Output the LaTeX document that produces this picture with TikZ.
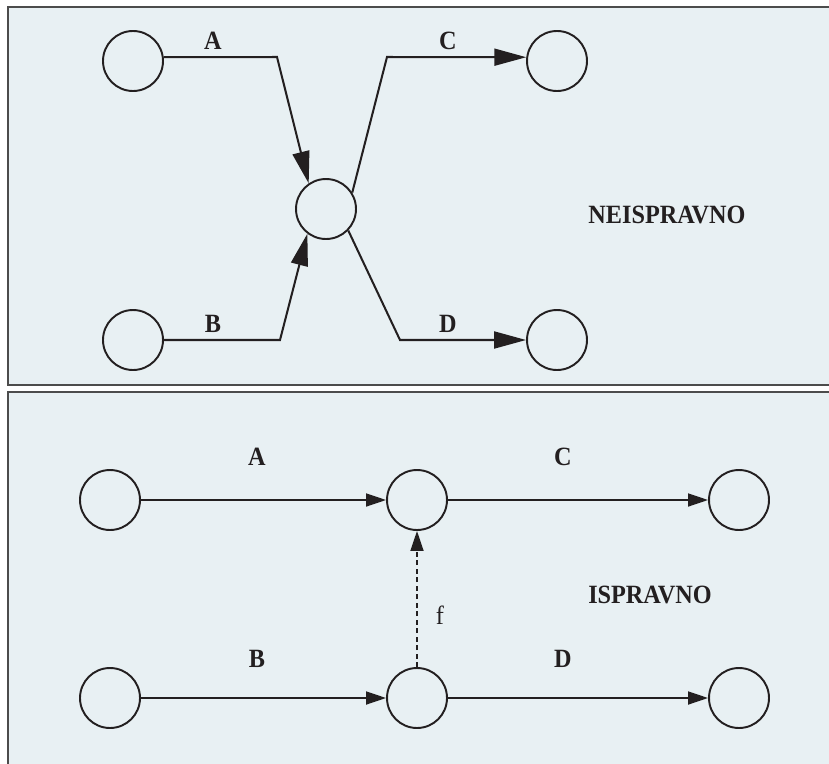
\documentclass[tikz,border=0pt]{standalone}
\usepackage{fontspec}
\setmainfont{Liberation Serif}[FakeStretch=0.92]
\usetikzlibrary{arrows.meta}
\definecolor{panelfill}{RGB}{232,240,243}
\definecolor{ink}{RGB}{35,31,32}
\tikzset{
  event/.style={
    shape = circle,
    draw = ink,
    line width = 1.1pt,
    minimum size = 1.2cm,
    inner sep = 0pt
  },
  panel/.style={
    fill = panelfill,
    draw = black!70,
    line width = 0.75pt
  },
  wrongarc/.style={
    draw = ink,
    line width = 1.15pt,
    -{Triangle[length=0.64cm,width=0.34cm]}
  },
  activity/.style={
    draw = ink,
    line width = 1pt,
    -{Triangle[length=0.4cm,width=0.26cm]}
  },
  dummyarc/.style={
    activity,
    dash pattern = on 0.1cm off 0.07cm
  },
  tag/.style={
    inner sep = 0pt,
    text = ink,
    font = \fontsize{15}{18}\selectfont\bfseries
  },
  plaintag/.style={
    tag,
    font = \fontsize{15}{18}\selectfont
  }
}
\begin{document}
\begin{tikzpicture}[x=0.02cm,y=-0.02cm]
    \useasboundingbox (0,0) rectangle (829,764);
    \draw[panel] (8,7) rectangle (850,385);
    \draw[panel] (8,392) rectangle (850,790);

    \foreach \n/\x/\y in {tA/133/61, tB/133/340, tM/326/209, tC/557/61, tD/557/340}{
            \node[event] (\n) at (\x,\y) {};
        }
    \coordinate (kA) at (277,57);
    \coordinate (kB) at (280,340);
    \coordinate (kC) at (387,57);
    \coordinate (kD) at (400,340);
    \draw[wrongarc] (tA.7) -- (kA) -- (tM.124);
    \draw[wrongarc] (tB) -- (kB) -- (tM.233);
    \draw[wrongarc] (tM.32) -- (kC) -- (tC.173);
    \draw[wrongarc] (tM.-44) -- (kD) -- (tD);
    \foreach \l/\x/\y in {A/213/41, B/213/324, C/448/41, D/448/324}{
            \node[tag] (tl\l) at (\x,\y) {\l};
        }
    \node[tag] (twrong) at (667,215) {NEISPRAVNO};

    \foreach \n/\x/\y in {bA/110/500, bE/417/500, bC/739/500, bB/110/698, bF/417/698, bD/739/698}{
            \node[event] (\n) at (\x,\y) {};
        }
    \draw[activity] (bA) -- (bE);
    \draw[activity] (bE) -- (bC);
    \draw[activity] (bB) -- (bF);
    \draw[activity] (bF) -- (bD);
    \draw[dummyarc] (bF) -- (bE);
    \foreach \l/\x/\y in {A/257/457, B/257/659, C/563/457, D/563/659}{
            \node[tag] (bl\l) at (\x,\y) {\l};
        }
    \node[plaintag] (blf) at (440,615) {f};
    \node[tag] (bright) at (650,595) {ISPRAVNO};
\end{tikzpicture}
\end{document}
